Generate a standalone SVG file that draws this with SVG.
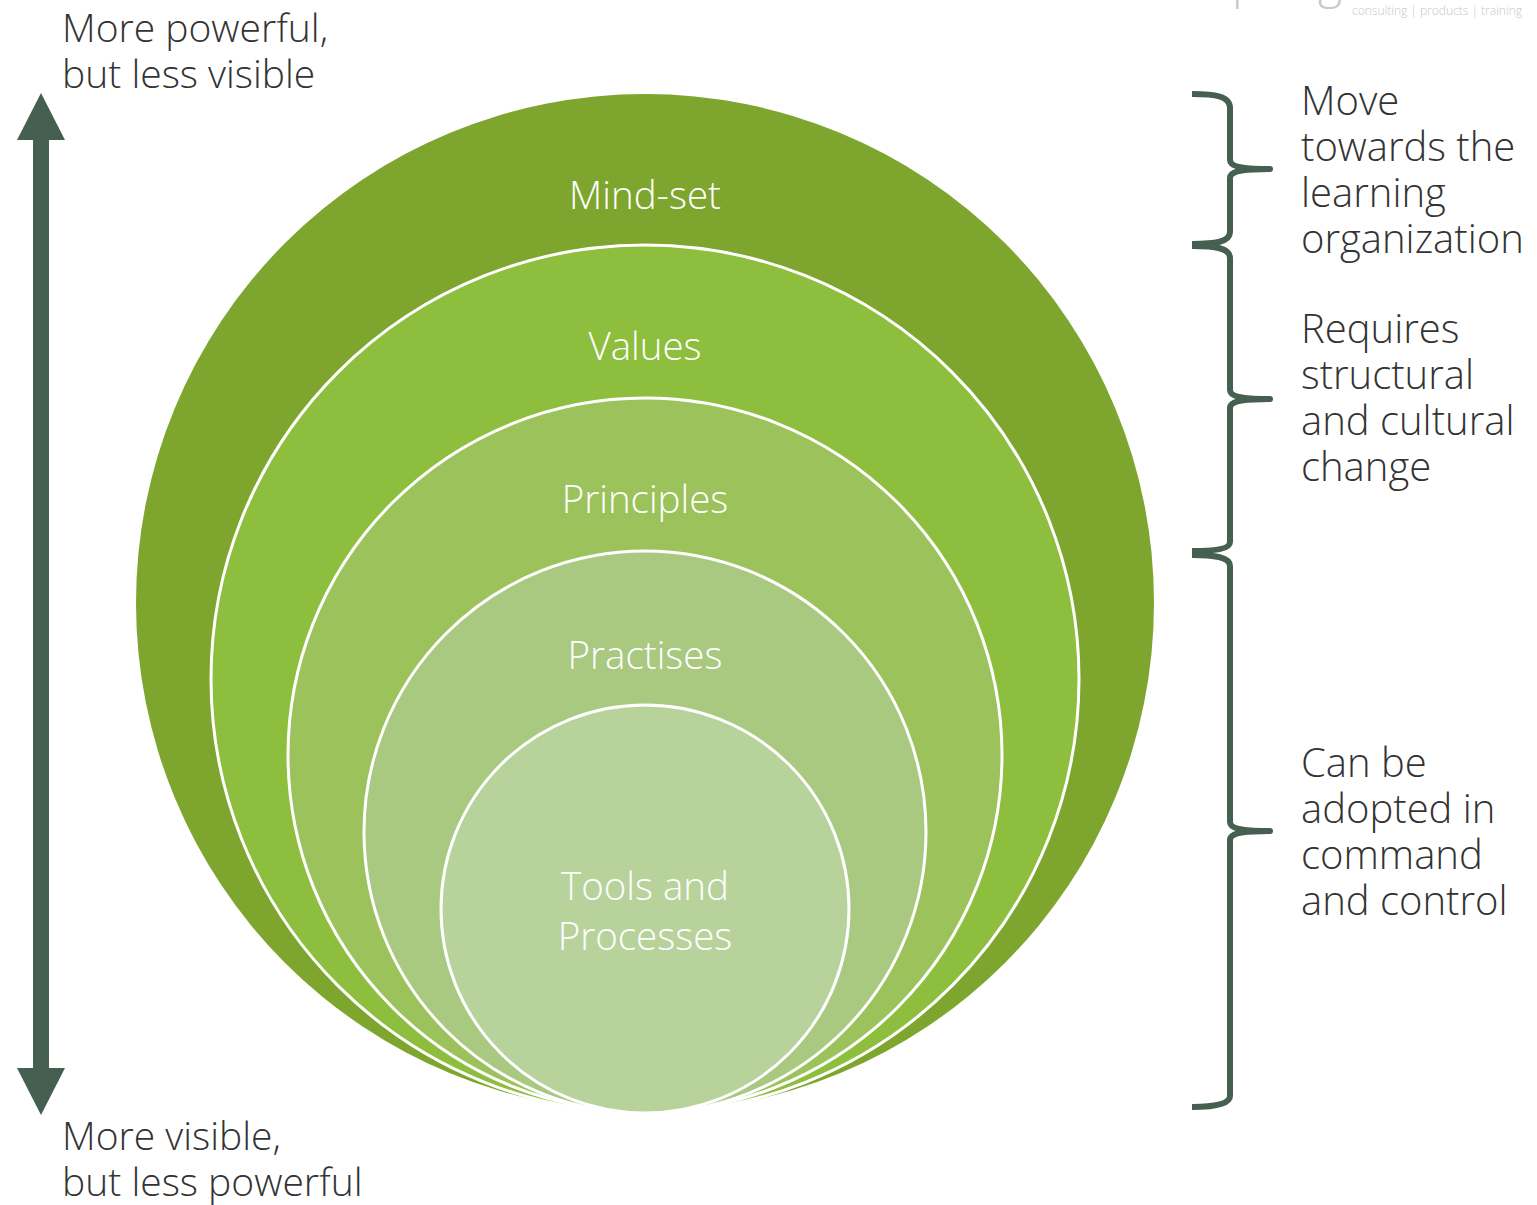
<svg xmlns="http://www.w3.org/2000/svg" width="1537" height="1205" viewBox="0 0 1537 1205">
  <style>
    .lbl { font-family: "Open Sans", "Liberation Sans", sans-serif; font-weight: 300; fill: #ffffff; text-anchor: middle; font-size: 38.5px; }
    .side { font-family: "Open Sans", "Liberation Sans", sans-serif; font-weight: 300; fill: #333333; font-size: 40px; }
    .left { font-size: 39px; }
    .ring { stroke: #ffffff; stroke-width: 3; }
    .brace { fill: none; stroke: #455f50; stroke-width: 6; stroke-linejoin: round; }
    .logo { font-family: "Open Sans", "Liberation Sans", sans-serif; font-weight: 300; fill: #c4c9c6; }
  </style>

  <rect width="1537" height="1205" fill="#ffffff"/>

  <!-- company mark, cut by the top edge -->
  <g id="logo">
    <text class="logo" x="1232" y="-2" font-size="46">p</text>
    <text class="logo" x="1318" y="-2" font-size="46">g</text>
    <text class="logo" x="1352" y="15" font-size="12">consulting | products | training</text>
  </g>

  <!-- nested layers, all touching at the bottom -->
  <g id="mind-set">
    <circle cx="645" cy="603" r="509" fill="#7ea62f"/>
    <text class="lbl" x="645" y="209">Mind-set</text>
  </g>
  <g id="values">
    <circle class="ring" cx="645" cy="679" r="434" fill="#8dbe3e"/>
    <text class="lbl" x="645" y="360">Values</text>
  </g>
  <g id="principles">
    <circle class="ring" cx="645" cy="755" r="357" fill="#9cc25c"/>
    <text class="lbl" x="645" y="513">Principles</text>
  </g>
  <g id="practises">
    <circle class="ring" cx="645" cy="832" r="281" fill="#a9c880"/>
    <text class="lbl" x="645" y="669">Practises</text>
  </g>
  <g id="tools">
    <circle class="ring" cx="645" cy="909" r="204" fill="#b8d29c"/>
    <text class="lbl" x="645" y="900">Tools and</text>
    <text class="lbl" x="645" y="950">Processes</text>
  </g>

  <!-- axis and braces -->
  <g id="connectors">
    <g id="axis" fill="#455f50">
      <rect x="33" y="138" width="16" height="932"/>
      <polygon points="41,93 65,140 17,140"/>
      <polygon points="41,1115 65,1068 17,1068"/>
    </g>
    <path id="brace-top" class="brace" d="M1192,94 C1215,94 1230,96 1230,108 L1230,160 C1230,166 1240,169 1270,169 C1240,169 1230,172 1230,178 L1230,232 C1230,242 1215,244 1192,244"/>
    <path id="brace-mid" class="brace" d="M1192,246 C1215,246 1230,248 1230,258 L1230,390 C1230,396 1240,399 1270,399 C1240,399 1230,402 1230,408 L1230,542 C1230,549 1215,551 1192,551"/>
    <path id="brace-low" class="brace" d="M1192,555 C1215,555 1230,557 1230,566 L1230,822 C1230,828 1240,831 1270,831 C1240,831 1230,834 1230,840 L1230,1096 C1230,1104 1215,1107 1192,1107"/>
  </g>

  <!-- side notes -->
  <g id="note-top-left">
    <text class="side left" x="62" y="42">More powerful,</text>
    <text class="side left" x="62" y="88">but less visible</text>
  </g>
  <g id="note-bottom-left">
    <text class="side left" x="62" y="1150">More visible,</text>
    <text class="side left" x="62" y="1196">but less powerful</text>
  </g>
  <g id="note-learning">
    <text class="side" x="1301" y="115">Move</text>
    <text class="side" x="1301" y="161">towards the</text>
    <text class="side" x="1301" y="207">learning</text>
    <text class="side" x="1301" y="253">organization</text>
  </g>
  <g id="note-change">
    <text class="side" x="1301" y="343">Requires</text>
    <text class="side" x="1301" y="389">structural</text>
    <text class="side" x="1301" y="435">and cultural</text>
    <text class="side" x="1301" y="481">change</text>
  </g>
  <g id="note-command">
    <text class="side" x="1301" y="777">Can be</text>
    <text class="side" x="1301" y="823">adopted in</text>
    <text class="side" x="1301" y="869">command</text>
    <text class="side" x="1301" y="915">and control</text>
  </g>
</svg>
